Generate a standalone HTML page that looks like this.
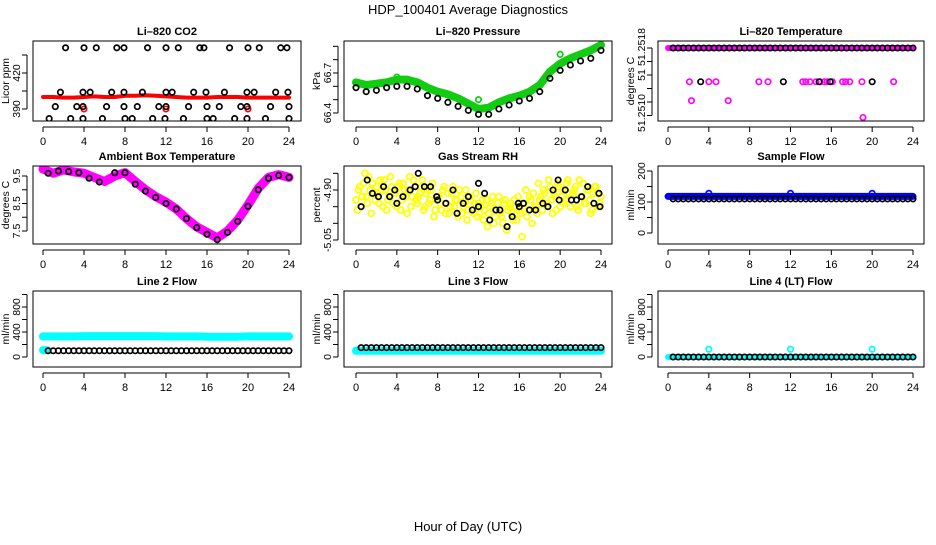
<!DOCTYPE html>
<html><head><meta charset="utf-8"><style>
html,body{margin:0;padding:0;background:#fff}
svg text{font-family:"Liberation Sans",sans-serif;}
</style></head><body>
<svg id="chart" width="936" height="540" viewBox="0 0 936 540" xmlns="http://www.w3.org/2000/svg">
<text x="468" y="14" font-size="13" text-anchor="middle">HDP_100401  Average Diagnostics</text>
<text x="468" y="531" font-size="13" text-anchor="middle">Hour of Day (UTC)</text>
</svg>
<script>
const hours = [0,1,2,3,4,5,6,7,8,9,10,11,12,13,14,15,16,17,18,19,20,21,22,23,24];
const hh = [0.5,1,1.5,2,2.5,3,3.5,4,4.5,5,5.5,6,6.5,7,7.5,8,8.5,9,9.5,10,10.5,11,11.5,12,12.5,13,13.5,14,14.5,15,15.5,16,16.5,17,17.5,18,18.5,19,19.5,20,20.5,21,21.5,22,22.5,23,23.5,24];
const xTicks = [0,4,8,12,16,20,24];

// CO2
const co2Red = [400,400,399.5,399.5,400,400.5,400,400,401,401,401.5,401,400.5,400,399.5,399.5,399.5,400,400,400,399.5,399.5,399.5,399.5,399.5];
const co2RedDipH = [4,12,20];
const co2RedDipV = [390,390,390];
const co2BlkH = [2.2,4.0,5.2,7.2,7.9,10.2,12.0,13.2,15.3,15.7,18.2,20.0,21.1,23.2,23.8, 1.7,3.9,4.6,6.7,7.9,9.7,12.0,12.6,14.7,15.9,17.7,19.9,20.6,22.7,23.9, 1.2,3.3,3.9,6.2,7.9,9.2,11.3,12.0,14.2,16.0,17.2,19.3,19.9,22.2,24.0, 0.6,2.7,3.9,5.8,8.0,8.7,10.7,11.9,13.7,16.0,16.6,18.7,19.9,21.7,24.0];
const co2BlkV = [441,441,441,441,441,441,441,441,441,441,441,441,441,441,441, 404,404,404,404,404,404,404,404,404,404,404,404,404,404,404, 392,392,392,392,392,392,392,392,392,392,392,392,392,392,392, 382,382,382,382,382,382,382,382,382,382,382,382,382,382,382];

// Pressure
const presGreen = [66.63,66.61,66.62,66.63,66.65,66.65,66.63,66.59,66.56,66.54,66.51,66.47,66.43,66.44,66.48,66.51,66.53,66.56,66.61,66.71,66.77,66.81,66.84,66.87,66.91];
const presBlack = [66.59,66.56,66.57,66.59,66.60,66.60,66.58,66.53,66.51,66.48,66.45,66.42,66.39,66.39,66.43,66.46,66.49,66.51,66.56,66.66,66.72,66.76,66.79,66.81,66.87];
const presOutH = [4,12,20];
const presOutV = [66.67,66.5,66.84];

// Li-820 temperature
const ltTopH = hh;
const ltTopV = [51.2518,51.2518,51.2518,51.2518,51.2518,51.2518,51.2518,51.2518,51.2518,51.2518,51.2518,51.2518,51.2518,51.2518,51.2518,51.2518,51.2518,51.2518,51.2518,51.2518,51.2518,51.2518,51.2518,51.2518,51.2518,51.2518,51.2518,51.2518,51.2518,51.2518,51.2518,51.2518,51.2518,51.2518,51.2518,51.2518,51.2518,51.2518,51.2518,51.2518,51.2518,51.2518,51.2518,51.2518,51.2518,51.2518,51.2518,51.2518];
const ltMagH = [2.1,4.0,4.7,8.9,9.8,13.2,13.5,13.9,14.5,14.9,15.3,15.6,16.1,17.1,17.4,17.8,19.0,22.1,2.3,5.9,19.1];
const ltMagV = [51.2513,51.2513,51.2513,51.2513,51.2513,51.2513,51.2513,51.2513,51.2513,51.2513,51.2513,51.2513,51.2513,51.2513,51.2513,51.2513,51.2513,51.2513,51.25102,51.25102,51.25077];
const ltBlkH = [3.2,11.3,14.8,15.9,20.0];
const ltBlkV = [51.2513,51.2513,51.2513,51.2513,51.2513];

// Ambient temperature
const amb = [9.75,9.6,9.72,9.65,9.6,9.45,9.3,9.5,9.62,9.3,9.0,8.75,8.55,8.3,7.95,7.65,7.45,7.25,7.5,7.9,8.45,9.05,9.45,9.55,9.45];
const ambBlk = [9.6,9.68,9.66,9.62,9.42,9.28,9.62,9.62,9.2,8.95,8.72,8.5,8.3,7.95,7.62,7.38,7.18,7.45,7.85,8.4,9.0,9.42,9.52,9.45];
const ambBlkH = [0.5,1.5,2.5,3.5,4.5,5.5,7.0,8.0,9.0,10.0,11.0,12.0,13.0,14.0,15.0,16.0,17.0,18.0,19.0,20.0,21.0,22.0,23.0,24.0];

// Gas stream RH
const rhY = [-4.93,-4.90,-4.95,-4.88,-4.92,-4.86,-4.97,-4.91,-4.89,-4.94,-4.90,-4.87,-4.96,-4.92,-4.89,-4.91,-4.95,-4.88,-4.93,-4.90,-4.97,-4.86,-4.92,-4.89,-4.94,-4.91,-4.87,-4.95,-4.90,-4.93,-4.88,-4.96,-4.92,-4.94,-4.90,-4.97,-4.91,-4.95,-4.89,-4.93,-4.98,-4.92,-4.95,-4.90,-4.96,-4.93,-4.97,-4.91,-4.94,-4.95,-4.99,-4.93,-4.97,-4.94,-5.00,-4.96,-4.92,-4.98,-4.94,-5.02,-4.95,-4.97,-4.93,-4.99,-4.96,-5.04,-4.94,-4.98,-4.92,-5.00,-4.95,-4.97,-4.93,-4.96,-4.91,-4.94,-4.89,-4.97,-4.92,-4.88,-4.95,-4.90,-4.93,-4.87,-4.95,-4.91,-4.89,-4.96,-4.92,-4.88,-4.94,-4.90,-4.97,-4.91,-4.89,-4.95,-4.92];
const rhY2 = [-4.96,-4.89,-4.92,-4.85,-4.94,-4.90,-4.88,-4.93,-4.91,-4.87,-4.95,-4.90,-4.93,-4.86,-4.94,-4.91,-4.89,-4.96,-4.88,-4.92,-4.90,-4.95,-4.87,-4.93,-4.92,-4.89,-4.96,-4.91,-4.94,-4.90,-4.98,-4.93,-4.92,-4.96,-4.89,-4.94,-4.97,-4.91,-4.95,-4.93,-4.90,-4.97,-4.94,-4.99,-4.92,-4.96,-4.94,-4.98,-4.97,-4.93,-4.96,-5.01,-4.95,-4.92,-4.98,-4.94,-4.97,-5.00,-4.93,-4.96,-4.94,-4.99,-4.95,-4.92,-4.97,-4.94,-4.90,-4.96,-4.93,-4.91,-4.95,-4.88,-4.92,-4.90,-4.94,-4.87,-4.93,-4.91,-4.96,-4.89,-4.92,-4.94,-4.88,-4.91,-4.93,-4.90,-4.95,-4.87,-4.92,-4.94,-4.90,-4.93,-4.96,-4.89,-4.91,-4.94];
const rhBlkH = [0.5,1.1,1.6,2.2,2.7,3.3,3.8,4.0,4.6,5.3,5.8,6.1,6.7,7.3,7.9,8.0,8.8,9.5,9.9,10.5,11.0,11.4,12.0,12.0,12.6,13.1,13.7,14.1,14.8,15.3,15.9,16.0,16.4,17.0,17.6,18.3,18.8,19.3,19.8,19.9,20.5,21.1,21.6,22.1,22.7,23.3,23.8,23.9];
const rhBlkV = [-4.95,-4.87,-4.91,-4.92,-4.89,-4.92,-4.90,-4.94,-4.92,-4.90,-4.89,-4.85,-4.89,-4.89,-4.92,-4.93,-4.94,-4.90,-4.97,-4.94,-4.92,-4.96,-4.88,-4.95,-4.91,-4.99,-4.96,-4.96,-5.01,-4.98,-4.94,-4.95,-4.94,-4.96,-4.96,-4.94,-4.95,-4.90,-4.87,-4.93,-4.90,-4.93,-4.93,-4.92,-4.89,-4.94,-4.91,-4.95];

// Flows (hourly band values)
const sampleBlue = [118,118,118,118,118,118,118,118,118,118,118,118,118,118,118,118,118,118,118,118,118,118,118,118,118];
const sampleBlueOutH = [4,12,20];
const sampleBlueOutV = [128,128,128];
const sampleBlack = [110,110,110,110,110,110,110,110,110,110,110,110,110,110,110,110,110,110,110,110,110,110,110,110,110];
const line2Cyan = [330,330,330,330,335,335,335,335,335,335,335,335,330,330,330,330,325,325,325,325,330,330,330,330,330];
const line2CyanLowH = [0,0.4];
const line2CyanLowV = [110,110];
const line2Black = [100,100,100,100,100,100,100,100,100,100,100,100,100,100,100,100,100,100,100,100,100,100,100,100,100];
const line3Cyan = [100,100,100,100,100,100,100,100,100,100,100,100,100,100,100,100,100,100,100,100,100,100,100,100,100];
const line3Black = [150,150,150,150,150,150,150,150,150,150,150,150,150,150,150,150,150,150,150,150,150,150,150,150,150];
const line4Cyan = [0,0,0,0,0,0,0,0,0,0,0,0,0,0,0,0,0,0,0,0,0,0,0,0,0];
const line4CyanOutH = [4,12,20];
const line4CyanOutV = [125,125,125];
const line4Black = [0,0,0,0,0,0,0,0,0,0,0,0,0,0,0,0,0,0,0,0,0,0,0,0,0];

const NS = "http://www.w3.org/2000/svg";
const svg = document.getElementById('chart');
function mk(tag, attrs, parent){const e=document.createElementNS(NS,tag);for(const k in attrs)e.setAttribute(k,attrs[k]);(parent||svg).appendChild(e);return e;}

function panel(o){
  const g = mk('g',{});
  
  
  const xs = h => o.x0 + (h/24)*(o.x24-o.x0);
  const ys = v => o.yA + (v-o.vA)*(o.yB-o.yA)/(o.vB-o.vA);
  const t = mk('text',{x:(o.l+o.r)/2,y:o.t-6,'font-size':11,'font-weight':'bold','text-anchor':'middle'},g);
  t.textContent=o.title;
  
  
  const ax = mk('g',{stroke:'#000','stroke-width':1},g);
  
  
  mk('line',{x1:xs(0),x2:xs(24),y1:o.b+6,y2:o.b+6},ax);
  xTicks.forEach(h=>{
    mk('line',{x1:xs(h),x2:xs(h),y1:o.b+6,y2:o.b+11},ax);
    const tl=mk('text',{x:xs(h),y:o.b+24,'font-size':11,'text-anchor':'middle',stroke:'none'},g);
    tl.textContent=h;
    
    
  });
  const ay = mk('g',{stroke:'#000','stroke-width':1},g);
  
  
  const ty=o.ticks.map(ys);
  mk('line',{x1:o.l-6,x2:o.l-6,y1:Math.min(...ty),y2:Math.max(...ty)},ay);
  ty.forEach(y=>mk('line',{x1:o.l-6,x2:o.l-11,y1:y,y2:y},ay));
  o.labels.forEach((lb,i)=>{
    if(lb==='')return;
    const y=ys(o.ticks[i])+(o.lshift?o.lshift[i]:0);
    const tl=mk('text',{x:o.l-13,y:y,'font-size':10.5,'text-anchor':'middle',transform:`rotate(-90 ${o.l-13} ${y})`},g);
    tl.textContent=lb;
    
    
  });
  const yl=mk('text',{x:o.l-24,y:(o.t+o.b)/2,'font-size':10.5,'text-anchor':'middle',transform:`rotate(-90 ${o.l-24} ${(o.t+o.b)/2})`},g);
  yl.textContent=o.ylab;
  
  
  const cl='c'+o.name;
  const cp=mk('clipPath',{id:cl},g);
  mk('rect',{x:o.l,y:o.t,width:o.r-o.l,height:o.b-o.t},cp);
  const plot=mk('g',{'clip-path':`url(#${cl})`},g);
  const box=mk('rect',{x:o.l,y:o.t,width:o.r-o.l,height:o.b-o.t,fill:'none',stroke:'#000','stroke-width':1},g);
  
  
  return {
    band(hs,vs,color,w,name){
      const p=mk('polyline',{points:hs.map((h,i)=>xs(h)+','+ys(vs[i])).join(' '),fill:'none',stroke:color,'stroke-width':w,'stroke-linecap':'round','stroke-linejoin':'round'},plot);
      
      
    },
    pts(hs,vs,color,name,r){
      const gg=mk('g',{fill:'none',stroke:color,'stroke-width':1.7},plot);
      
      
      hs.forEach((h,i)=>mk('circle',{cx:xs(h),cy:ys(vs[i]),r:r||2.7},gg));
    }
  };
}

const C1={l:33,r:301,x0:43,x24:289}, C2={l:344,r:612,x0:356,x24:601}, C3={l:658,r:924,x0:668,x24:913};
const R1={t:41,b:121}, R2={t:166,b:244}, R3={t:291,b:367};

let p;
p=panel({...C1,...R1,name:'panel-co2',title:'Li\u2013820 CO2',ylab:'Licor ppm',yA:109,vA:390,yB:73,vB:420,ticks:[390,405,420,435],labels:['390','','420','']});
p.band(hours,co2Red,'#f00',4,'co2-series');
p.pts(co2RedDipH,co2RedDipV,'#f00','co2-dips');
p.pts(co2BlkH,co2BlkV,'#000','co2-average-points');

p=panel({...C2,...R1,name:'panel-pressure',title:'Li\u2013820 Pressure',ylab:'kPa',yA:113,vA:66.4,yB:73,vB:66.7,ticks:[66.4,66.5,66.6,66.7,66.8,66.9],labels:['66.4','','','66.7','','']});
p.band(hours,presGreen,'#1c1',8,'pressure-series');
p.pts(presOutH,presOutV,'#1c1','pressure-outliers');
p.pts(hours,presBlack,'#000','pressure-average-points');

p=panel({...C3,...R1,name:'panel-li820-temp',title:'Li\u2013820 Temperature',ylab:'degrees C',yA:48,vA:51.2518,yB:102,vB:51.2510,ticks:[51.2518,51.2516,51.2514,51.2512,51.2510,51.2508],labels:['51.2518','','51','','51.2510',''],lshift:[-1,0,0,0,11,0]});
p.band([0,24],[51.2518,51.2518],'#f0f',6,'li820-temp-series');
p.pts(ltTopH,ltTopV,'#000','li820-temp-average-points');
p.pts(ltMagH,ltMagV,'#f0f','li820-temp-outliers');
p.pts(ltBlkH,ltBlkV,'#000','li820-temp-average-outliers');

p=panel({...C1,...R2,name:'panel-ambient-temp',title:'Ambient Box Temperature',ylab:'degrees C',yA:176,vA:9.5,yB:231,vB:7.5,ticks:[9.5,9.0,8.5,8.0,7.5],labels:['9.5','','8.5','','7.5']});
p.band(hours,amb,'#f0f',9,'ambient-temp-series');
p.pts(ambBlkH,ambBlk,'#000','ambient-temp-average-points');

p=panel({...C2,...R2,name:'panel-gas-rh',title:'Gas Stream RH',ylab:'percent',yA:190,vA:-4.90,yB:240,vB:-5.05,ticks:[-4.85,-4.90,-4.95,-5.00,-5.05],labels:['','-4.90','','','-5.05']});
p.pts(rhY.map((v,i)=>i*0.25),rhY,'#ff0','rh-series-a',3);
p.pts(rhY2.map((v,i)=>0.125+i*0.25),rhY2,'#ff0','rh-series-b',3);
p.pts(rhBlkH,rhBlkV,'#000','rh-average-points');

p=panel({...C3,...R2,name:'panel-sample-flow',title:'Sample Flow',ylab:'ml/min',yA:233,vA:0,yB:171,vB:200,ticks:[0,50,100,150,200],labels:['0','','100','','200']});
p.band(hours,sampleBlue,'#00f',7,'sample-flow-series');
p.pts(sampleBlueOutH,sampleBlueOutV,'#00f','sample-flow-outliers');
p.pts(hh,hh.map(h=>sampleBlack[Math.min(24,Math.round(h))]),'#000','sample-flow-average-points');

p=panel({...C1,...R3,name:'panel-line2-flow',title:'Line 2 Flow',ylab:'ml/min',yA:357,vA:0,yB:307,vB:800,ticks:[0,200,400,600,800,1000],labels:['0','','400','','800','']});
p.band(hours,line2Cyan,'#0ff',8,'line2-flow-series');
p.band(line2CyanLowH,line2CyanLowV,'#0ff',8,'line2-flow-low');
p.pts(hh,hh.map(h=>line2Black[Math.min(24,Math.round(h))]),'#000','line2-average-points');

p=panel({...C2,...R3,name:'panel-line3-flow',title:'Line 3 Flow',ylab:'ml/min',yA:357,vA:0,yB:307,vB:800,ticks:[0,200,400,600,800,1000],labels:['0','','400','','800','']});
p.band(hours,line3Cyan,'#0ff',8,'line3-flow-series');
p.pts(hh,hh.map(h=>line3Black[Math.min(24,Math.round(h))]),'#000','line3-average-points');

p=panel({...C3,...R3,name:'panel-line4-flow',title:'Line 4 (LT) Flow',ylab:'ml/min',yA:357,vA:0,yB:307,vB:800,ticks:[0,200,400,600,800,1000],labels:['0','','400','','800','']});
p.band(hours,line4Cyan,'#0ff',6,'line4-flow-series');
p.pts(line4CyanOutH,line4CyanOutV,'#0ff','line4-flow-outliers');
p.pts(hh,hh.map(h=>line4Black[Math.min(24,Math.round(h))]),'#000','line4-average-points');
</script>
</body></html>
